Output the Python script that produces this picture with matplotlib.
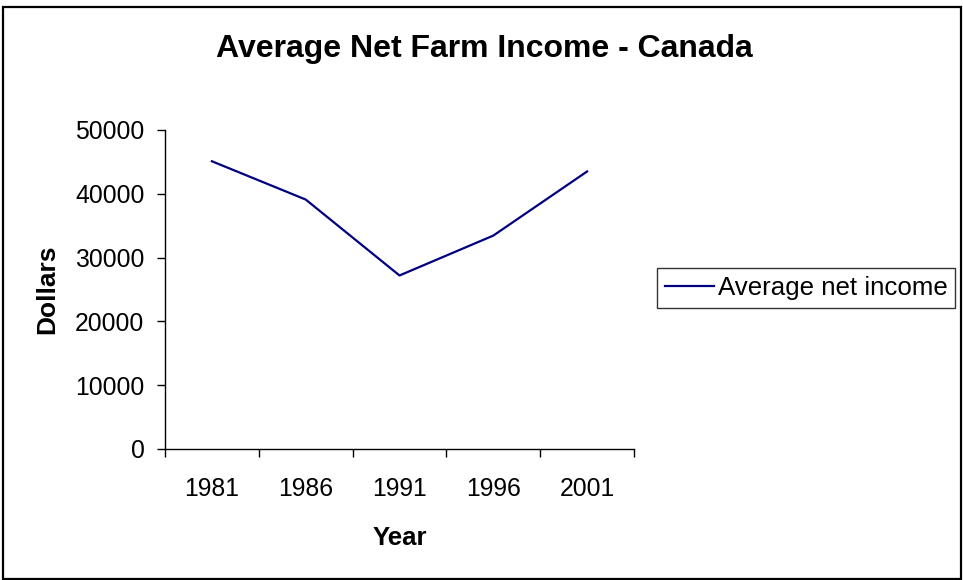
import matplotlib.pyplot as plt
from matplotlib.patches import Rectangle

# Data
years = ['1981', '1986', '1991', '1996', '2001']
net_income = [45100, 39100, 27200, 33450, 43500]

plt.rcParams['font.family'] = ['Liberation Sans', 'DejaVu Sans']

fig = plt.figure(figsize=(9.63, 5.8), dpi=100)
ax = fig.add_axes([165 / 963, 131 / 580, 469 / 963, 319 / 580])

x = list(range(len(years)))
ax.plot(x, net_income, color='#000080', linewidth=1.6, label='Average net income')

ax.set_xlim(-0.5, len(years) - 0.5)
ax.set_ylim(0, 50000)
ax.set_yticks(range(0, 50001, 10000))

# category axis: ticks between categories, labels in the middle
ax.set_xticks([i - 0.5 for i in range(len(years) + 1)])
ax.set_xticklabels([])
ax.set_xticks(x, minor=True)
ax.set_xticklabels(years, minor=True)
ax.tick_params(axis='x', which='major', length=5.5, width=1, direction='out')
ax.tick_params(axis='x', which='minor', length=0, pad=20, labelsize=17.8)
ax.tick_params(axis='y', length=5.8, width=1, direction='out', pad=9, labelsize=17.8)

for side in ['top', 'right']:
    ax.spines[side].set_visible(False)
for side in ['left', 'bottom']:
    ax.spines[side].set_linewidth(1)

ax.set_xlabel('Year', fontsize=18.5, fontweight='bold', labelpad=18)
ax.set_ylabel('Dollars', fontsize=19, fontweight='bold', labelpad=11.5)

fig.suptitle('Average Net Farm Income - Canada', fontsize=23, fontweight='bold',
             x=484 / 963, y=1 - 49 / 580, va='center')

leg = fig.legend(loc='center left', bbox_to_anchor=(657 / 963, 1 - 288 / 580),
                 fontsize=18.6, frameon=True, fancybox=False, handlelength=1.9,
                 handletextpad=0.15, borderpad=0.3, borderaxespad=0)
leg.get_frame().set_edgecolor('black')
leg.get_frame().set_linewidth(1)

# outer chart border
fig.patches.append(Rectangle((3 / 963, 1 / 580), 958 / 963, 572 / 580,
                             transform=fig.transFigure, fill=False,
                             edgecolor='black', linewidth=1.6))

fig.savefig('out.png', dpi=100)
